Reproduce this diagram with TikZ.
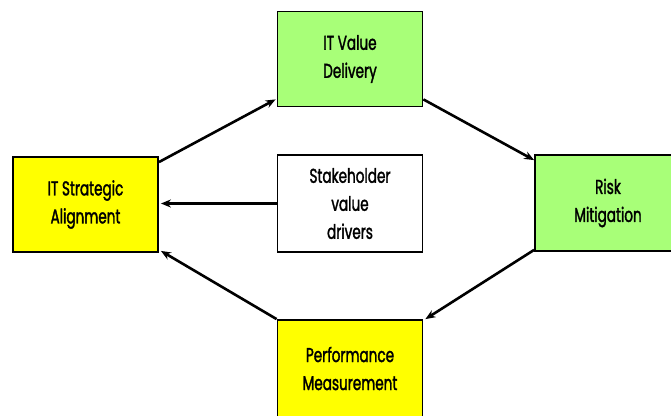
\documentclass[tikz,border=0pt]{standalone}
\usepackage{fontspec}
\newfontfamily\twfont[FakeStretch=0.68,FakeBold=1.6]{Poppins}
\usetikzlibrary{arrows.meta}
\definecolor{boxyellow}{RGB}{255,255,0}
\definecolor{boxgreen}{RGB}{168,255,120}
\begin{document}
\begin{tikzpicture}[x=1pt,y=-1pt,
  box/.style={draw=black,line width=1.8pt,minimum width=145pt,minimum height=95pt,
    inner sep=0pt,align=center,font=\twfont\fontsize{20}{28}\selectfont},
  conn/.style={line width=2.6pt,-{Stealth[length=10pt,width=8pt]}}]
\clip (0,0) rectangle (671,415);
\fill[white] (0,0) rectangle (671,415);
\node[box,fill=boxyellow] (strat) at (85.5,204.5) {IT Strategic\\Alignment};
\node[box,fill=boxgreen] (val) at (350,59) {IT Value\\Delivery};
\node[box,fill=white,minimum height=97pt] (stake) at (350,203.5) {Stakeholder\\value\\drivers};
\node[box,fill=boxgreen,minimum width=146pt,minimum height=96pt] (risk) at (608,203) {Risk\\Mitigation};
\node[box,fill=boxyellow,minimum height=97pt] (perf) at (350,368.5) {Performance\\Measurement};
\draw[conn] ([yshift=-6pt]strat.north east) -- ([xshift=-1pt,yshift=8pt]val.south west);
\draw[conn] ([yshift=8pt]val.south east) -- ([yshift=-6pt]risk.north west);
\draw[conn] ([yshift=2pt]risk.south west) -- ([xshift=2pt]perf.north east);
\draw[conn] (perf.north west) -- ([xshift=2pt,yshift=2pt]strat.south east);
\draw[conn] (stake.west) -- ([xshift=2pt]strat.east |- stake.west);
\end{tikzpicture}
\end{document}
